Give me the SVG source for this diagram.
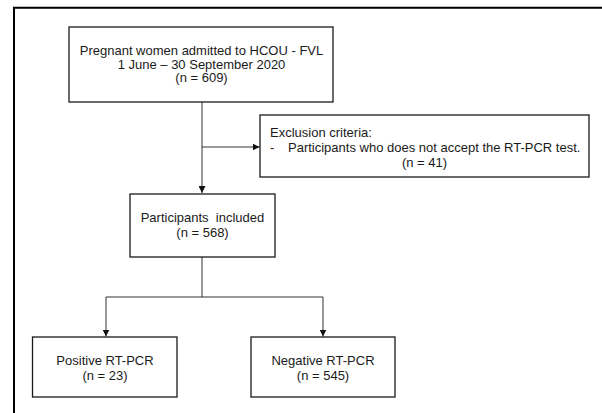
<svg xmlns="http://www.w3.org/2000/svg" width="602" height="413" viewBox="0 0 602 413">
<defs>
<style>
.box{fill:#fff;stroke:#1a1a1a;stroke-width:1.3}
.t{font-family:"Liberation Sans",Arial,sans-serif;font-size:13px;fill:#1a1a1a;white-space:pre}
.c{text-anchor:middle}
.ln{fill:none;stroke:#333;stroke-width:1}
</style>
<marker id="ah" viewBox="0 0 10 10" refX="10" refY="5" markerWidth="7" markerHeight="7" markerUnits="userSpaceOnUse" orient="auto">
<path d="M0,0 L10,5 L0,10 Z" fill="#111"/>
</marker>
</defs>
<rect width="602" height="413" fill="#fff"/>
<path d="M14,413 V7.7 H602" fill="none" stroke="#000" stroke-width="2"/>
<g id="connectors">
<path class="ln" d="M202,102 V193" marker-end="url(#ah)"/>
<path class="ln" d="M202,147 H259.5" marker-end="url(#ah)"/>
<path class="ln" d="M202,257 V297 M106,297 H323"/>
<path class="ln" d="M106,297 V336.5" marker-end="url(#ah)"/>
<path class="ln" d="M323,297 V336.5" marker-end="url(#ah)"/>
</g>
<g id="n-start">
<rect class="box" x="69" y="27" width="264" height="75"/>
<text class="t c" x="201.5" y="55">Pregnant women admitted to HCOU - FVL</text>
<text class="t c" x="201.5" y="68.5">1 June – 30 September 2020</text>
<text class="t c" x="201.5" y="82">(n = 609)</text>
</g>
<g id="n-excl">
<rect class="box" x="260" y="115" width="329" height="62"/>
<text class="t" x="270" y="137">Exclusion criteria:</text>
<text class="t" x="270" y="152">-</text>
<text class="t" x="288" y="152">Participants who does not accept the RT-PCR test.</text>
<text class="t c" x="424.5" y="166.5">(n = 41)</text>
</g>
<g id="n-incl">
<rect class="box" x="130" y="194" width="145" height="63"/>
<text class="t c" x="202.5" y="222">Participants  included</text>
<text class="t c" x="202.5" y="237">(n = 568)</text>
</g>
<g id="n-pos">
<rect class="box" x="32.5" y="337" width="144.5" height="60"/>
<text class="t c" x="105" y="365">Positive RT-PCR</text>
<text class="t c" x="105" y="380">(n = 23)</text>
</g>
<g id="n-neg">
<rect class="box" x="251" y="337" width="144" height="60"/>
<text class="t c" x="323" y="365">Negative RT-PCR</text>
<text class="t c" x="323" y="380">(n = 545)</text>
</g>
</svg>
